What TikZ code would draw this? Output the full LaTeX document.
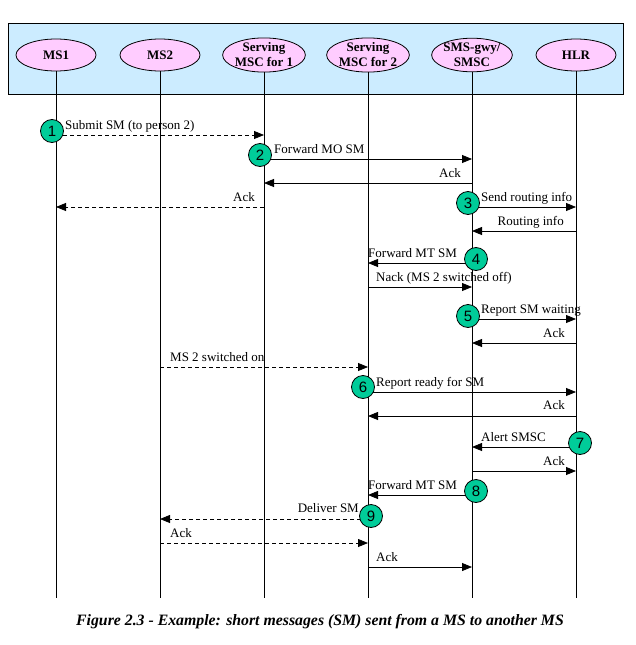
\documentclass[tikz,border=0pt]{standalone}
\usepackage{fontspec}
\setmainfont{Liberation Serif}
\newfontfamily\numfont{Liberation Sans}
\usetikzlibrary{arrows.meta,shapes.geometric}
\definecolor{hdrbg}{RGB}{204,236,255}
\definecolor{ellpink}{RGB}{255,204,255}
\definecolor{stepgreen}{RGB}{0,204,153}
\begin{document}
\begin{tikzpicture}[x=1pt,y=-1pt,
  actor/.style={ellipse, draw, line width=0.8pt, fill=ellpink, minimum width=80pt, minimum height=32pt,
    inner sep=0pt, align=center, font=\fontsize{13}{15}\selectfont\bfseries},
  life/.style={line width=0.8pt},
  msg/.style={line width=0.8pt, -{Triangle[length=10pt,width=8pt]}},
  dmsg/.style={msg, dash pattern=on 4pt off 3pt},
  lbl/.style={inner sep=0pt, font=\fontsize{13}{15}\selectfont},
  num/.style={circle, draw, line width=0.8pt, fill=stepgreen, minimum size=23pt, inner sep=0pt,
    font=\fontsize{15}{15}\selectfont\numfont}
]
\useasboundingbox (0,0) rectangle (635,645);
% header
\node[draw, line width=0.8pt, fill=hdrbg, minimum width=615pt, minimum height=71pt, inner sep=0pt] (hdr) at (315.5,58.5) {};
\node[actor] (a1) at (56,55) {MS1};
\node[actor] (a2) at (160,55) {MS2};
\node[actor] (a3) at (264,55) {Serving\\MSC for 1};
\node[actor] (a4) at (368,55) {Serving\\MSC for 2};
\node[actor] (a5) at (472,55) {SMS-gwy/\\SMSC};
\node[actor] (a6) at (576,55) {HLR};
% lifeline ends
\foreach \i/\x in {1/56,2/160,3/264,4/368,5/472,6/576}{
  \coordinate (e\i) at (\x,598);
  \draw[life] (a\i) -- (e\i);
}
% messages
\draw[dmsg] (a1 |- 0,135) -- (a3 |- 0,135);
\draw[msg]  (a3 |- 0,159) -- (a5 |- 0,159);
\draw[msg]  (a5 |- 0,183) -- (a3 |- 0,183);
\draw[dmsg] (a3 |- 0,207) -- (a1 |- 0,207);
\draw[msg]  (a5 |- 0,207) -- (a6 |- 0,207);
\draw[msg]  (a6 |- 0,231) -- (a5 |- 0,231);
\draw[msg]  (a5 |- 0,263) -- (a4 |- 0,263);
\draw[msg]  (a4 |- 0,287) -- (a5 |- 0,287);
\draw[msg]  (a5 |- 0,319) -- (a6 |- 0,319);
\draw[msg]  (a6 |- 0,343) -- (a5 |- 0,343);
\draw[dmsg] (a2 |- 0,367) -- (a4 |- 0,367);
\draw[msg]  (a4 |- 0,392) -- (a6 |- 0,392);
\draw[msg]  (a6 |- 0,416) -- (a4 |- 0,416);
\draw[msg]  (a6 |- 0,447) -- (a5 |- 0,447);
\draw[msg]  (a5 |- 0,471) -- (a6 |- 0,471);
\draw[msg]  (a5 |- 0,495) -- (a4 |- 0,495);
\draw[dmsg] (a4 |- 0,519) -- (a2 |- 0,519);
\draw[dmsg] (a2 |- 0,543) -- (a4 |- 0,543);
\draw[msg]  (a4 |- 0,567) -- (a5 |- 0,567);
% labels
\node[lbl, anchor=base west] (t1)  at (65,129)  {Submit SM (to person 2)};
\node[lbl, anchor=base west] (t2)  at (274,153) {Forward MO SM};
\node[lbl, anchor=base east] (t3)  at (461,177) {Ack};
\node[lbl, anchor=base east] (t4)  at (255,201) {Ack};
\node[lbl, anchor=base west] (t5)  at (481,201) {Send routing info};
\node[lbl, anchor=base east] (t6)  at (564,225) {Routing info};
\node[lbl, anchor=base west] (t7)  at (368,257) {Forward MT SM};
\node[lbl, anchor=base west] (t8)  at (376,281) {Nack (MS 2 switched off)};
\node[lbl, anchor=base west] (t9)  at (481,313) {Report SM waiting};
\node[lbl, anchor=base east] (t10) at (565,337) {Ack};
\node[lbl, anchor=base west] (t11) at (170,361) {MS 2 switched on};
\node[lbl, anchor=base west] (t12) at (376,386) {Report ready for SM};
\node[lbl, anchor=base east] (t13) at (565,409) {Ack};
\node[lbl, anchor=base west] (t14) at (481,441) {Alert SMSC};
\node[lbl, anchor=base east] (t15) at (565,465) {Ack};
\node[lbl, anchor=base west] (t16) at (368,489) {Forward MT SM};
\node[lbl, anchor=base east] (t17) at (359,512) {Deliver SM};
\node[lbl, anchor=base west] (t18) at (170,537) {Ack};
\node[lbl, anchor=base west] (t19) at (376,561) {Ack};
% step numbers
\node[num] (s1) at (52,131) {1};
\node[num] (s2) at (260,155) {2};
\node[num] (s3) at (468,203) {3};
\node[num] (s4) at (476,259) {4};
\node[num] (s5) at (468,316) {5};
\node[num] (s6) at (363,387) {6};
\node[num] (s7) at (580,443) {7};
\node[num] (s8) at (476,491) {8};
\node[num] (s9) at (371,516) {9};
% caption
\node[inner sep=0pt, font=\fontsize{15.8}{18}\selectfont\bfseries\itshape] (cap) at (320,622)
  {Figure 2.3 - Example: short messages (SM) sent from a MS to another MS};
\end{tikzpicture}
\end{document}
